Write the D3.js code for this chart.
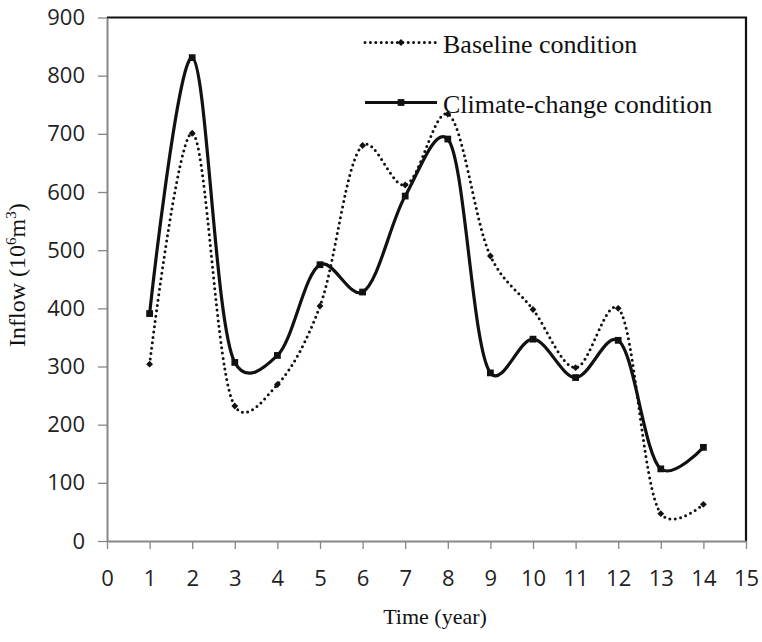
<!DOCTYPE html>
<html>
<head>
<meta charset="utf-8">
<script src="https://cdn.jsdelivr.net/npm/d3@7"></script>
<style>
  body { margin: 0; background: #fff; }
  svg { display: block; }
</style>
</head>
<body>
<div id="chart"></div>
<script>
// values
const years = [1, 2, 3, 4, 5, 6, 7, 8, 9, 10, 11, 12, 13, 14];
const baseline = [304, 701, 232, 269, 404, 680, 612, 734, 490, 398, 298, 400, 47, 63];
const climate = [391, 831, 307, 319, 475, 428, 593, 691, 289, 347, 281, 345, 124, 161];
const xTicks = d3.range(0, 16);
const yTicks = [0, 100, 200, 300, 400, 500, 600, 700, 800, 900];

const W = 762, H = 642;
const margin = {top: 17.5, right: 16, bottom: 101, left: 107};
const width = W - margin.left - margin.right;
const height = H - margin.top - margin.bottom;

const svg = d3.select("#chart")
    .append("svg")
    .attr("width", W)
    .attr("height", H)
    .append("g")
    .attr("transform", "translate(" + margin.left + "," + margin.top + ")");

const x = d3.scaleLinear().domain([0, 15]).range([0, width]);
const y = d3.scaleLinear().domain([0, 900]).range([height, 0]);

const axisGrey = "#878787";

// top and right frame (black)
svg.append("path")
    .attr("d", "M0,0H" + width + "V" + height)
    .attr("fill", "none")
    .attr("stroke", "#111")
    .attr("stroke-width", 2.2);

const yAxis = svg.append("g")
    .call(d3.axisLeft(y).tickValues(yTicks).tickSize(9).tickPadding(13).tickSizeOuter(0));

const xAxis = svg.append("g")
    .attr("transform", "translate(0," + height + ")")
    .call(d3.axisBottom(x).tickValues(xTicks).tickSize(8).tickPadding(21).tickSizeOuter(0));

[yAxis, xAxis].forEach(g => {
    g.select(".domain").attr("stroke", axisGrey).attr("stroke-width", 2);
    g.selectAll(".tick line").attr("stroke", axisGrey).attr("stroke-width", 1.3);
    g.selectAll("text")
        .attr("fill", "#222")
        .style("font-family", "'Open Sans', sans-serif")
        .style("font-size", "22px");
});

// smoothed lines, somewhere between uniform and centripetal catmull-rom
const curve = d3.curveCatmullRom.alpha(0.25);

const line = d3.line()
    .x(d => x(d[0]))
    .y(d => y(d[1]))
    .curve(curve);

const basePts = years.map((yr, i) => [yr, baseline[i]]);
const climPts = years.map((yr, i) => [yr, climate[i]]);

// baseline: round dotted line
svg.append("path")
    .datum(basePts)
    .attr("d", line)
    .attr("fill", "none")
    .attr("stroke", "#111")
    .attr("stroke-width", 3)
    .attr("stroke-linecap", "round")
    .attr("stroke-dasharray", "0 5.4");

// climate change: solid
svg.append("path")
    .datum(climPts)
    .attr("d", line)
    .attr("fill", "none")
    .attr("stroke", "#111")
    .attr("stroke-width", 3.2);

const diamond = d3.symbol().type(d3.symbolDiamond2).size(30);
const square = d3.symbol().type(d3.symbolSquare).size(46);

svg.append("g")
    .selectAll("path")
    .data(basePts)
    .join("path")
    .attr("transform", d => "translate(" + x(d[0]) + "," + y(d[1]) + ")")
    .attr("d", diamond)
    .attr("fill", "#111");

svg.append("g")
    .selectAll("path")
    .data(climPts)
    .join("path")
    .attr("transform", d => "translate(" + x(d[0]) + "," + y(d[1]) + ")")
    .attr("d", square)
    .attr("fill", "#111");

// legend
const legend = svg.append("g")
    .attr("transform", "translate(" + (365 - margin.left) + "," + (42.5 - margin.top) + ")");

legend.append("line")
    .attr("x1", 0).attr("x2", 72).attr("y1", 0).attr("y2", 0)
    .attr("stroke", "#111")
    .attr("stroke-width", 3)
    .attr("stroke-linecap", "round")
    .attr("stroke-dasharray", "0 5.4");
legend.append("path")
    .attr("transform", "translate(36,0)")
    .attr("d", diamond)
    .attr("fill", "#111");
legend.append("text")
    .attr("x", 78).attr("y", 10)
    .style("font-family", "'Liberation Serif', 'Times New Roman', serif")
    .style("font-size", "26px")
    .attr("fill", "#111")
    .text("Baseline condition");

legend.append("line")
    .attr("x1", 0).attr("x2", 72).attr("y1", 60).attr("y2", 60)
    .attr("stroke", "#111")
    .attr("stroke-width", 3.2);
legend.append("path")
    .attr("transform", "translate(36,60)")
    .attr("d", square)
    .attr("fill", "#111");
legend.append("text")
    .attr("x", 78).attr("y", 70)
    .style("font-family", "'Liberation Serif', 'Times New Roman', serif")
    .style("font-size", "26px")
    .attr("fill", "#111")
    .text("Climate-change condition");

// axis titles
svg.append("text")
    .attr("x", 435 - margin.left)
    .attr("y", 624 - margin.top)
    .attr("text-anchor", "middle")
    .style("font-family", "'Liberation Serif', 'Times New Roman', serif")
    .style("font-size", "22px")
    .attr("fill", "#111")
    .text("Time (year)");

const yTitle = svg.append("text")
    .attr("transform", "translate(" + (25 - margin.left) + "," + (347 - margin.top) + ") rotate(-90)")
    .attr("text-anchor", "start")
    .style("font-family", "'Liberation Serif', 'Times New Roman', serif")
    .style("font-size", "24px")
    .attr("fill", "#111");
yTitle.append("tspan").text("Inflow (10");
yTitle.append("tspan").attr("dy", -9).style("font-size", "15px").text("6");
yTitle.append("tspan").attr("dy", 9).text("m");
yTitle.append("tspan").attr("dy", -9).style("font-size", "15px").text("3");
yTitle.append("tspan").attr("dy", 9).text(")");
</script>
</body>
</html>
